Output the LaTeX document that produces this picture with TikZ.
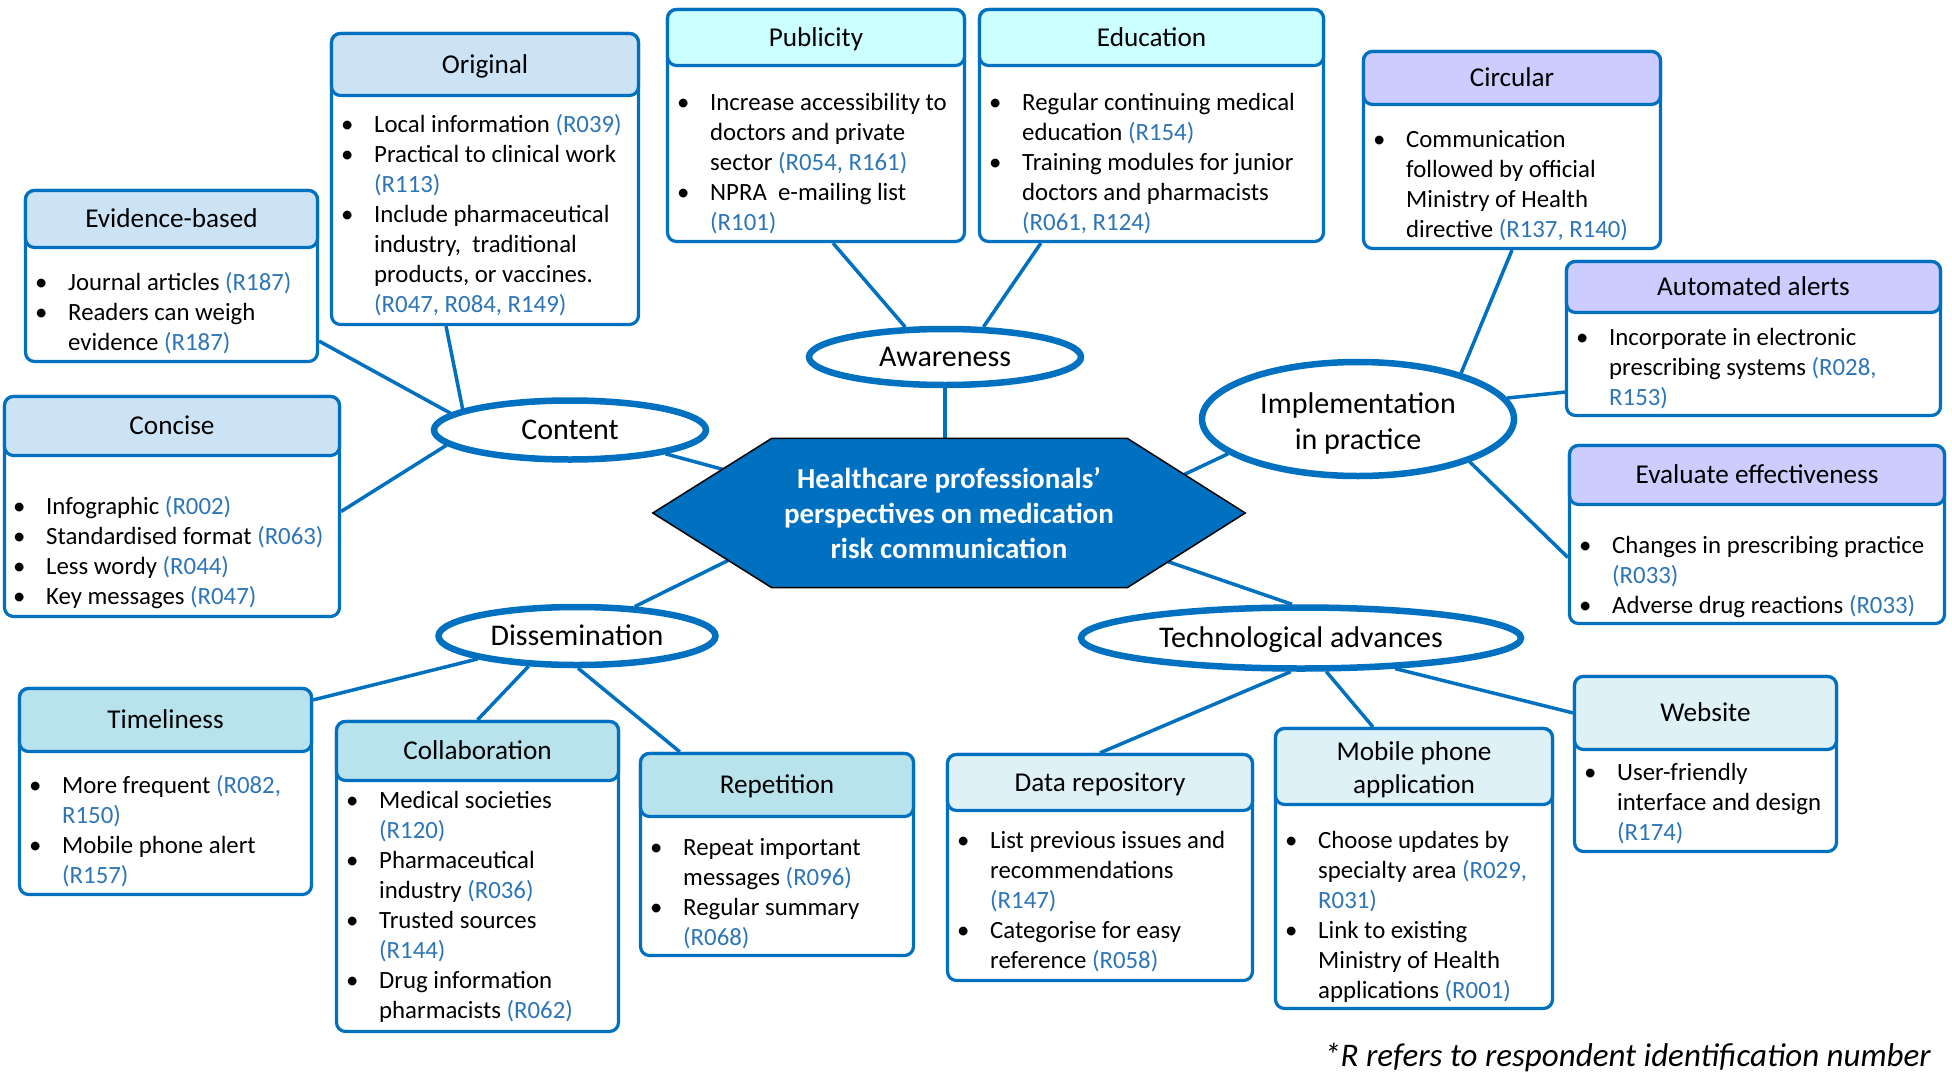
\documentclass[tikz,border=0pt]{standalone}
\usepackage{fontspec}
\setmainfont{Carlito}
\usetikzlibrary{shapes.geometric,calc,backgrounds}
\definecolor{myblue}{HTML}{0070C0}
\definecolor{refblue}{HTML}{2E75B6}
\definecolor{cContent}{HTML}{CCE3F5}
\definecolor{cAware}{HTML}{CCFFFF}
\definecolor{cImpl}{HTML}{CCCCFF}
\definecolor{cDiss}{HTML}{B8E2EC}
\definecolor{cTech}{HTML}{DEF1F7}
\newcommand\bodyfont{\fontsize{24.8}{30}\selectfont}
\newcommand\hdfont{\fontsize{27.2}{33}\selectfont}
\newcommand\elfont{\fontsize{30}{36}\selectfont}
\newcommand\hexfont{\fontsize{29}{35}\selectfont\bfseries}
\newcommand\notefont{\fontsize{33}{39}\selectfont\itshape}
\newcommand\itm{\makebox[33pt][l]{\textbullet}}
\newcommand\ind{\hspace*{33pt}}
\newcommand\rr[1]{\textcolor{refblue}{#1}}
\tikzset{
 boxbody/.style={draw=myblue, line width=3.2pt, rounded corners=9pt, fill=white, inner sep=0pt},
 boxhead/.style={draw=myblue, line width=3.2pt, rounded corners=9pt, inner sep=0pt, font=\hdfont, text height=19pt, text depth=2pt, align=center},
 topic/.style={ellipse, draw=myblue, line width=6.5pt, fill=white, inner sep=0pt, font=\elfont, align=center, text height=19.5pt, text depth=0pt},
 link/.style={draw=myblue, line width=3.5pt},
 bodytext/.style={anchor=base west, inner sep=0pt, font=\bodyfont},
}
% #1 extra header opts, #2 name, #3 left, #4 top, #5 right, #6 bottom, #7 header bottom, #8 colour, #9 title
\newcommand\tbox[9][]{%
 \node[boxbody, minimum width={#5-#3-3}, minimum height={#6-#4-3}] (#2) at ({(#3+#5)/2},{(#4+#6)/2}) {};
 \node[boxhead, fill=#8, minimum width={#5-#3-3}, minimum height={#7-#4-3}, #1] (#2H) at ({(#3+#5)/2},{(#4+#7)/2}) {#9};
}
\newcommand\btext[4]{\node[bodytext] (#1) at (#2,#3) {\parbox[t]{500pt}{#4}};}

\begin{document}
\begin{tikzpicture}[x=1pt,y=-1pt]
\useasboundingbox (0,0) rectangle (1952,1076);

% central hexagon text
\node[minimum width=592, minimum height=149, inner sep=0pt, font=\hexfont, text=white, align=center] (hex) at (949,513)
 {Healthcare professionals’\\perspectives on medication\\risk communication};

% themes
\node[topic, minimum width=272, minimum height=56] (aw) at (945,357) {Awareness};
\node[topic, minimum width=272, minimum height=59] (content) at (570,430) {Content};
\node[topic, minimum width=277, minimum height=58] (diss) at (577,636) {Dissemination};
\node[topic, minimum width=312, minimum height=114, text height=, text depth=, font=\fontsize{30}{36}\selectfont] (impl) at (1358,419) {\rule{0pt}{30pt}Implementation\\in practice};
\node[topic, minimum width=440, minimum height=61] (tech) at (1301,638) {Technological advances};

% boxes
\tbox{orig}{330}{32}{640}{326}{97}{cContent}{Original}
\tbox{evid}{24}{189}{319}{363}{249}{cContent}{Evidence-based}
\tbox{conc}{3}{395}{341}{618}{457}{cContent}{Concise}
\tbox{pub}{666}{8}{966}{243}{67}{cAware}{Publicity}
\tbox{edu}{978}{8}{1325}{243}{67}{cAware}{Education}
\tbox{circ}{1362}{50}{1662}{250}{106}{cImpl}{Circular}
\tbox{auto}{1565}{260}{1942}{417}{314}{cImpl}{Automated alerts}
\tbox{eval}{1568}{444}{1946}{625}{506}{cImpl}{Evaluate effectiveness}
\tbox{tim}{18}{687}{313}{896}{753}{cDiss}{Timeliness}
\tbox{coll}{335}{720}{620}{1033}{782}{cDiss}{Collaboration}
\tbox{rep}{639}{752}{915}{957}{818}{cDiss}{Repetition}
\tbox{data}{946}{753}{1254}{982}{812}{cTech}{Data repository}
\tbox[text height=,text depth=]{mob}{1274}{727}{1554}{1010}{806}{cTech}{\rule{0pt}{25pt}Mobile phone\\application}
\tbox{web}{1573}{675}{1838}{853}{751}{cTech}{Website}

% box texts
\btext{origT}{341}{132}{\itm Local information \rr{(R039)}\\
\itm Practical to clinical work\\
\ind\rr{(R113)}\\
\itm Include pharmaceutical\\
\ind industry,\ \ traditional\\
\ind products, or vaccines.\\
\ind\rr{(R047, R084, R149)}}
\btext{evidT}{35}{290}{\itm Journal articles \rr{(R187)}\\
\itm Readers can weigh\\
\ind evidence \rr{(R187)}}
\btext{concT}{13}{514}{\itm Infographic \rr{(R002)}\\
\itm Standardised format \rr{(R063)}\\
\itm Less wordy \rr{(R044)}\\
\itm Key messages \rr{(R047)}}
\btext{pubT}{677}{110}{\itm Increase accessibility to\\
\ind doctors and private\\
\ind sector \rr{(R054, R161)}\\
\itm NPRA\ \ e-mailing list\\
\ind\rr{(R101)}}
\btext{eduT}{989}{110}{\itm Regular continuing medical\\
\ind education \rr{(R154)}\\
\itm Training modules for junior\\
\ind doctors and pharmacists\\
\ind\rr{(R061, R124)}}
\btext{circT}{1373}{147}{\itm Communication\\
\ind followed by official\\
\ind Ministry of Health\\
\ind directive \rr{(R137, R140)}}
\btext{autoT}{1576}{345}{\itm Incorporate in electronic\\
\ind prescribing systems \rr{(R028,}\\
\ind\rr{R153)}}
\btext{evalT}{1579}{553}{\itm Changes in prescribing practice\\
\ind\rr{(R033)}\\
\itm Adverse drug reactions \rr{(R033)}}
\btext{timT}{29}{793}{\itm More frequent \rr{(R082,}\\
\ind\rr{R150)}\\
\itm Mobile phone alert\\
\ind\rr{(R157)}}
\btext{collT}{346}{808}{\itm Medical societies\\
\ind\rr{(R120)}\\
\itm Pharmaceutical\\
\ind industry \rr{(R036)}\\
\itm Trusted sources\\
\ind\rr{(R144)}\\
\itm Drug information\\
\ind pharmacists \rr{(R062)}}
\btext{repT}{650}{855}{\itm Repeat important\\
\ind messages \rr{(R096)}\\
\itm Regular summary\\
\ind\rr{(R068)}}
\btext{dataT}{957}{848}{\itm List previous issues and\\
\ind recommendations\\
\ind\rr{(R147)}\\
\itm Categorise for easy\\
\ind reference \rr{(R058)}}
\btext{mobT}{1285}{848}{\itm Choose updates by\\
\ind specialty area \rr{(R029,}\\
\ind\rr{R031)}\\
\itm Link to existing\\
\ind Ministry of Health\\
\ind applications \rr{(R001)}}
\btext{webT}{1584}{780}{\itm User-friendly\\
\ind interface and design\\
\ind\rr{(R174)}}

% footnote
\node[anchor=base east, inner sep=0pt, font=\notefont] (note) at (1931,1066) {*R refers to respondent identification number};

\begin{scope}[on background layer]
\fill[white] (0,0) rectangle (1952,1076);
% connectors
\draw[link] ($(evid.south east)+(0,-22)$) -- (content.172);
\draw[link] ($(orig.south)+(-39,0)$) -- (content.169);
\draw[link] ($(conc.east)+(0,5)$) -- (content.187);
\draw[link] (content.-14) -- ($(hex.center)+(-176,-30)$);
\draw[link] ($(pub.south)+(17,0)$) -- (aw.143);
\draw[link] ($(edu.south west)+(63,0)$) -- (aw.38);
\draw[link] (aw.south) -- ($(aw.south |- hex.north)+(0,10)$);
\draw[link] (diss.27) -- ($(hex.center)+(-139,7)$);
\draw[link] (diss.193) -- ($(tim.north east)+(0,13)$);
\draw[link] (diss.212) -- (coll.north);
\draw[link] (diss.-88) -- ($(rep.north west)+(41,0)$);
\draw[link] (impl.195) -- ($(hex.center)+(162,-4)$);
\draw[link] (circ.south) -- (impl.24);
\draw[link] ($(auto.south west)+(0,-25)$) -- (impl.8);
\draw[link] (impl.-21) -- ($(eval.west)+(0,23)$);
\draw[link] (tech.105) -- ($(hex.center)+(101,8)$);
\draw[link] (tech.253) -- (data.north);
\draw[link] (tech.-53) -- ($(mob.north west)+(99,0)$);
\draw[link] (tech.-18) -- ($(web.north west)+(0,38)$);
% hexagon
\filldraw[fill=myblue, draw=black, line width=1.5pt]
 (hex.west) -- ($(hex.north west)+(119,0)$) -- ($(hex.north east)+(-118,0)$) -- (hex.east)
 -- ($(hex.south east)+(-118,0)$) -- ($(hex.south west)+(119,0)$) -- cycle;
\end{scope}
\end{tikzpicture}
\end{document}
